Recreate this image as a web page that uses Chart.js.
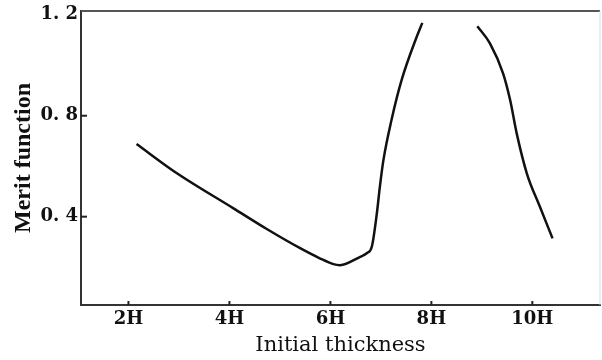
<!DOCTYPE html>
<html>
<head>
    <title>Merit function vs initial thickness</title>
    <style>
        body {
            margin: 0;
            background: #ffffff;
        }
        #chart-container {
            width: 602px;
            height: 360px;
        }
    </style>
    <script src="https://cdn.jsdelivr.net/npm/chart.js"></script>
    <script>
        // initial thickness (in units of H) and merit function
        const thicknessLeft = [2.16, 2.96, 4.08, 4.74, 5.40, 5.79, 6.06, 6.19, 6.59, 6.72, 6.82, 6.92, 6.98, 7.05, 7.21, 7.41, 7.71, 7.82];
        const meritLeft     = [0.688, 0.572, 0.433, 0.351, 0.275, 0.235, 0.212, 0.208, 0.241, 0.255, 0.281, 0.413, 0.519, 0.624, 0.783, 0.941, 1.113, 1.168];

        const thicknessRight = [8.91, 9.16, 9.42, 9.56, 9.69, 9.89, 10.15, 10.40];
        const meritRight     = [1.155, 1.087, 0.968, 0.862, 0.730, 0.572, 0.439, 0.314];

        const xTickValues = [2, 4, 6, 8, 10];
        const xTickLabels = ['2H', '4H', '6H', '8H', '10H'];
        const yTickValues = [0.4, 0.8, 1.2];
        const yTickLabels = ['0. 4', '0. 8', '1. 2'];

        function toPoints(xs, ys) {
            return xs.map((x, i) => ({ x: x, y: ys[i] }));
        }

        // frame on top/right and the small inward tick marks
        const framePlugin = {
            id: 'frame',
            afterDraw(chart) {
                const ctx = chart.ctx;
                const area = chart.chartArea;
                const xScale = chart.scales.x;
                const yScale = chart.scales.y;
                ctx.save();
                ctx.strokeStyle = '#555';
                ctx.lineWidth = 2;
                ctx.beginPath();
                ctx.moveTo(area.left, area.top);
                ctx.lineTo(area.right, area.top);
                ctx.stroke();

                ctx.strokeStyle = '#ddd';
                ctx.lineWidth = 1;
                ctx.beginPath();
                ctx.moveTo(area.right, area.top);
                ctx.lineTo(area.right, area.bottom);
                ctx.stroke();

                ctx.strokeStyle = '#222';
                ctx.lineWidth = 2;
                xTickValues.forEach(v => {
                    const px = xScale.getPixelForValue(v);
                    ctx.beginPath();
                    ctx.moveTo(px, area.bottom);
                    ctx.lineTo(px, area.bottom - 4);
                    ctx.stroke();
                });
                yTickValues.forEach(v => {
                    const py = yScale.getPixelForValue(v);
                    if (py - area.top < 8) return; // no mark on the top edge
                    ctx.beginPath();
                    ctx.moveTo(area.left, py);
                    ctx.lineTo(area.left + 6, py);
                    ctx.stroke();
                });
                ctx.restore();
            }
        };

        document.addEventListener('DOMContentLoaded', function() {
            const ctx = document.getElementById('meritChart').getContext('2d');
            const lineStyle = {
                borderColor: '#111',
                borderWidth: 2.5,
                pointRadius: 0,
                fill: false,
                cubicInterpolationMode: 'monotone'
            };

            new Chart(ctx, {
                type: 'line',
                data: {
                    datasets: [
                        Object.assign({ label: 'left branch', data: toPoints(thicknessLeft, meritLeft) }, lineStyle),
                        Object.assign({ label: 'right branch', data: toPoints(thicknessRight, meritRight) }, lineStyle)
                    ]
                },
                options: {
                    responsive: false,
                    animation: false,
                    devicePixelRatio: 1,
                    layout: {
                        padding: { top: 11, right: 2, left: 0, bottom: 0 }
                    },
                    plugins: {
                        legend: { display: false },
                        tooltip: { enabled: false }
                    },
                    scales: {
                        x: {
                            type: 'linear',
                            min: 1.06,
                            max: 11.34,
                            afterFit: function(scale) {
                                scale.height = 55;
                                scale.paddingLeft = 0;
                                scale.paddingRight = 0;
                            },
                            afterBuildTicks: function(scale) {
                                scale.ticks = xTickValues.map(v => ({ value: v }));
                            },
                            grid: { display: false, drawTicks: false },
                            border: { display: true, color: '#333', width: 2 },
                            ticks: {
                                autoSkip: false,
                                maxRotation: 0,
                                padding: 4,
                                color: '#111',
                                font: { family: 'DejaVu Serif', size: 18, weight: 'bold' },
                                callback: function(value, index) { return xTickLabels[index]; }
                            },
                            title: {
                                display: true,
                                text: 'Initial thickness',
                                color: '#111',
                                padding: { top: 0, bottom: 2 },
                                font: { family: 'DejaVu Serif', size: 21 }
                            }
                        },
                        y: {
                            min: 0.05,
                            max: 1.215,
                            afterFit: function(scale) {
                                scale.width = 81;
                                scale.paddingTop = 0;
                                scale.paddingBottom = 0;
                            },
                            afterBuildTicks: function(scale) {
                                scale.ticks = yTickValues.map(v => ({ value: v }));
                            },
                            grid: { display: false, drawTicks: false },
                            border: { display: true, color: '#333', width: 2 },
                            ticks: {
                                autoSkip: false,
                                padding: 3,
                                color: '#111',
                                font: { family: 'DejaVu Serif', size: 18, weight: 'bold' },
                                callback: function(value, index) { return yTickLabels[index]; }
                            },
                            title: {
                                display: true,
                                text: 'Merit function',
                                color: '#111',
                                padding: { top: 9, bottom: 0 },
                                font: { family: 'Liberation Serif', size: 24, weight: 'bold' }
                            }
                        }
                    }
                },
                plugins: [framePlugin]
            });
        });
    </script>
</head>
<body>
    <div id="chart-container">
        <canvas id="meritChart" width="602" height="360"></canvas>
    </div>
</body>
</html>
